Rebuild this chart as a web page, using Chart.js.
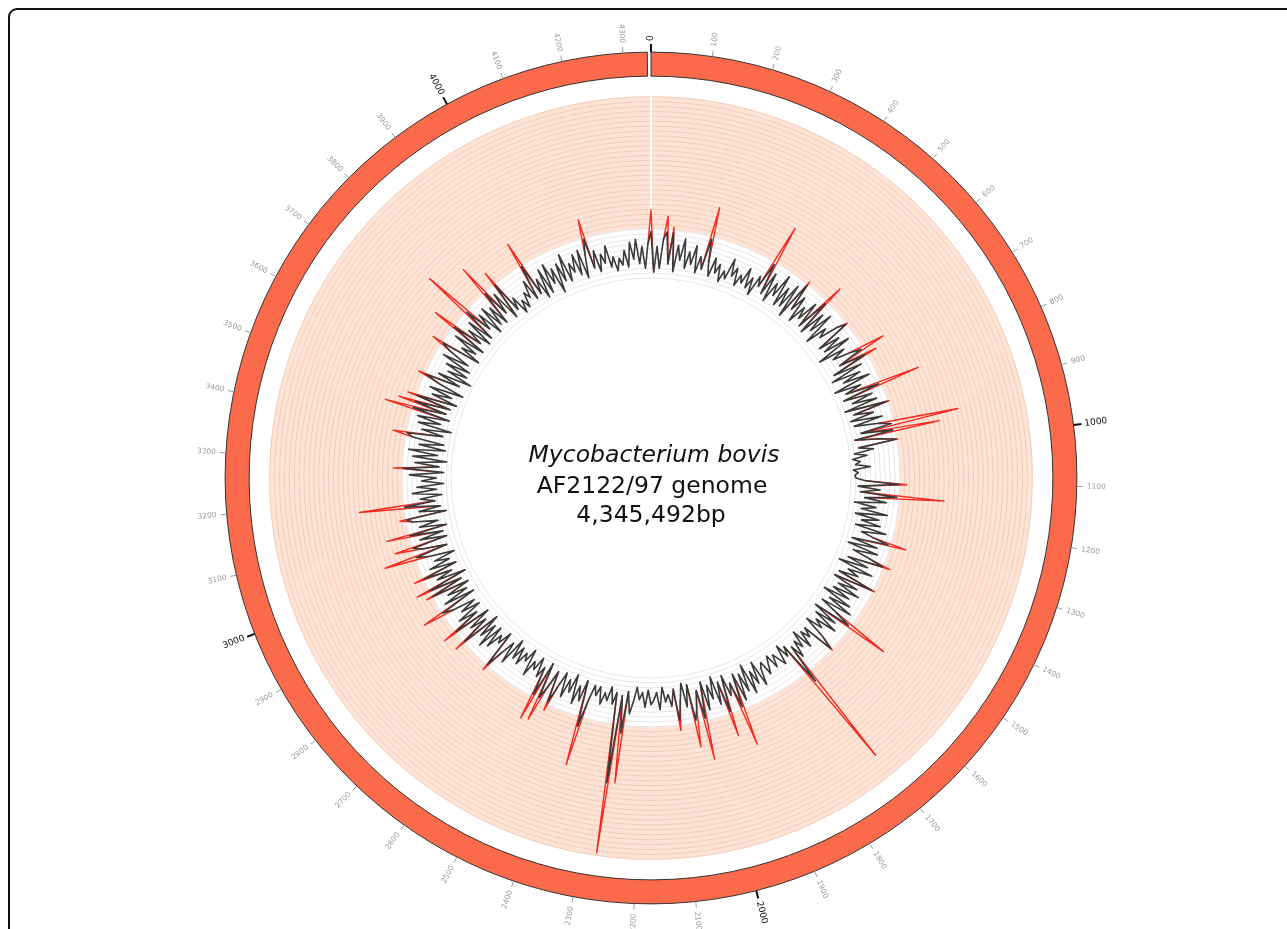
<!DOCTYPE html>
<html>
<head>
<meta charset="utf-8">
<script src="https://cdn.jsdelivr.net/npm/chart.js@4.4.1/dist/chart.umd.min.js"></script>
<style>
  body { margin: 0; background: #fff; }
  .wrap { position: relative; width: 1287px; height: 929px; overflow: hidden; }
  .frame { position: absolute; left: 8px; top: 8px; width: 1300px; height: 950px; border: 2px solid #111; border-radius: 9px; }
  canvas { position: absolute; left: 0; top: 0; }
</style>
</head>
<body>
<div class="wrap">
  <div class="frame"></div>
  <canvas id="myChart" width="1287" height="929"></canvas>
</div>
<script>
const genomeLength = 4345492;
const binCount = 480;
const binSize = genomeLength / binCount;
const binStarts = Array.from({ length: binCount }, (_, i) => Math.round(i * binSize));

// track values per bin (0 = inner edge of grey band, 10 = edge of shaded band)
const trackValues = [
  9.5, 1.2, 6.5, 2.0, 8.0, 9.5, 3.0, 9.5, 1.5, 7.0, 4.0, 8.5, 2.5, 6.0, 3.5, 7.5, 2.0, 5.5, 3.0, 9.5,
  4.5, 2.0, 6.0, 3.0, 5.0, 1.5, 4.0, 2.5, 7.0, 3.5, 5.5, 2.0, 4.5, 3.0, 6.5, 2.5, 5.0, 1.5, 6.0, 4.0,
  9.5, 3.0, 8.0, 2.0, 6.5, 4.0, 9.0, 2.5, 7.0, 3.0, 8.5, 1.5, 9.8, 4.0, 7.5, 2.0, 6.0, 3.5, 8.0, 2.5,
  9.5, 2.0, 7.5, 3.5, 8.5, 1.5, 6.0, 4.0, 8.0, 9.8, 2.5, 7.0, 3.0, 8.5, 1.0, 6.5, 3.5, 7.0, 9.5, 4.0,
  9.5, 2.0, 8.0, 1.0, 7.0, 3.0, 8.5, 0.5, 6.0, 2.5, 9.5, 1.5, 7.5, 3.0, 8.0, 1.0, 9.8, 2.5, 6.5, 1.5,
  8.0, 2.0, 7.0, 9.5, 3.0, 9.5, 1.5, 6.5, 9.8, 2.0, 5.0, 1.0, 3.5, 0.5, 2.0, 1.0, 4.0, 0.5, 1.5, 0.8,
  1.0, 3.0, 9.8, 1.5, 6.0, 2.0, 9.5, 3.0, 7.5, 1.0, 5.5, 2.5, 8.0, 1.5, 6.5, 3.0, 7.0, 2.0, 8.5, 3.5,
  6.0, 9.5, 2.0, 7.5, 1.5, 8.0, 3.0, 6.5, 9.8, 2.5, 7.0, 1.0, 8.5, 3.5, 6.0, 2.0, 9.8, 1.5, 7.0, 3.0,
  8.0, 2.5, 6.5, 1.0, 7.5, 3.0, 8.5, 2.0, 6.0, 9.5, 1.5, 7.0, 2.5, 8.0, 3.5, 5.5, 2.0, 7.0, 9.8, 3.0,
  5.0, 3.0, 6.5, 2.0, 5.5, 3.5, 7.0, 4.0, 12.5, 3.0, 5.0, 2.0, 6.0, 4.5, 3.0, 5.5, 2.5, 4.0, 6.0, 3.0,
  4.0, 7.5, 2.0, 6.5, 3.5, 8.0, 1.5, 7.0, 3.0, 8.5, 2.5, 9.5, 4.0, 6.5, 2.0, 9.5, 3.0, 7.5, 1.5, 6.0,
  3.0, 8.0, 2.0, 9.5, 3.5, 7.0, 9.5, 2.0, 6.5, 1.5, 5.0, 9.0, 2.5, 6.0, 3.5, 5.0, 2.0, 6.5, 3.0, 4.5,
  5.5, 2.5, 6.0, 3.0, 4.5, 2.0, 5.0, 7.5, 3.0, 11.6, 4.0, 22.0, 3.5, 6.0, 2.5, 5.5, 4.0, 6.5, 3.0, 5.0,
  3.0, 6.5, 12.0, 2.5, 7.0, 4.0, 8.0, 2.0, 6.0, 3.5, 7.5, 2.5, 5.5, 9.5, 3.0, 6.5, 9.5, 2.0, 9.5, 3.5,
  6.0, 2.0, 5.0, 3.5, 7.0, 1.5, 4.5, 3.0, 6.0, 2.5, 5.5, 1.5, 7.5, 3.0, 6.0, 9.8, 2.0, 5.0, 3.5, 7.0,
  2.5, 8.0, 3.0, 6.5, 1.5, 9.8, 3.5, 7.0, 2.0, 9.8, 4.0, 8.0, 2.5, 6.5, 3.0, 7.5, 9.8, 2.0, 8.5, 3.0,
  7.0, 2.0, 9.8, 3.0, 9.8, 1.5, 7.5, 4.0, 9.8, 2.5, 8.0, 3.5, 6.5, 2.0, 7.0, 9.8, 3.0, 8.0, 9.8, 2.5,
  8.0, 3.0, 9.8, 2.0, 7.5, 3.5, 8.5, 9.8, 1.5, 7.0, 2.5, 9.8, 3.5, 6.5, 2.0, 8.0, 3.0, 7.0, 1.5, 6.0,
  3.0, 8.5, 1.5, 9.8, 2.5, 7.5, 1.0, 8.0, 3.0, 9.0, 1.5, 7.0, 2.0, 8.5, 9.8, 2.5, 7.0, 1.0, 8.0, 3.5,
  8.5, 2.0, 9.8, 3.0, 9.8, 2.5, 9.8, 1.5, 7.0, 3.0, 8.0, 1.0, 6.5, 9.8, 2.5, 7.5, 0.5, 6.0, 2.0, 7.0,
  2.0, 8.5, 3.0, 7.5, 9.8, 1.5, 6.0, 3.0, 8.5, 2.0, 9.8, 3.5, 7.0, 2.0, 8.0, 2.5, 9.8, 4.0, 7.5, 2.0,
  8.0, 3.0, 7.0, 2.5, 9.8, 4.0, 8.5, 2.0, 9.8, 3.0, 5.5, 1.5, 4.0, 2.0, 5.0, 3.5, 7.0, 2.5, 9.8, 3.0,
  6.0, 1.5, 7.5, 2.0, 8.0, 3.5, 6.5, 1.0, 7.0, 3.0, 8.5, 2.5, 6.0, 4.0, 7.5, 3.0, 8.0, 2.0, 6.5, 9.8,
  3.5, 7.0, 2.5, 6.0, 4.0, 7.5, 3.0, 5.0, 2.0, 4.5, 3.0, 6.0, 2.5, 7.5, 4.0, 8.0, 3.0, 6.5, 2.0, 7.0,
];

// bins where the red track peaks above the black one
const peakBins = [0, 5, 7, 19, 40, 52, 60, 69, 78, 80, 90, 96, 103, 105, 108, 122, 126, 141, 148, 156,
  169, 178, 188, 211, 215, 223, 226, 231, 249, 251, 262, 273, 276, 278, 295, 305, 309, 316, 322, 324,
  328, 335, 338, 342, 347, 351, 363, 374, 382, 384, 386, 393, 404, 410, 416, 424, 428, 438, 459];
const peakValues = [13.9, 12.7, 10.6, 16.1, 18.0, 10.6, 13.7, 10.2, 14.7, 12.2, 18.2, 10.3, 23.4, 19.2, 10.2, 11.4, 19.2, 13.2, 11.4, 10.4,
  18.4, 10.2, 32.0, 17.7, 14.7, 18.0, 15.0, 11.1, 21.8, 36.5, 20.2, 11.4, 14.4, 14.9, 11.2, 12.1, 12.8, 14.3, 11.3, 12.7,
  12.0, 16.5, 13.6, 14.6, 11.2, 19.1, 11.8, 12.7, 15.7, 13.3, 11.8, 11.4, 12.2, 14.6, 20.0, 16.4, 12.9, 15.1, 13.9];

const tickPositionsKb = Array.from({ length: 44 }, (_, i) => i * 100);
const titleLines = ["Mycobacterium bovis", "AF2122/97 genome", "4,345,492bp"];

// red track: only the peaks and the bins next to them, gaps elsewhere
const peakSet = new Set(peakBins);
const redTrack = trackValues.map((v, i) => {
  const k = peakBins.indexOf(i);
  if (k >= 0) return peakValues[k];
  const prev = (i - 1 + binCount) % binCount;
  const next = (i + 1) % binCount;
  return peakSet.has(prev) || peakSet.has(next) ? v : null;
});

// radial levels (in track units)
const greyBandTop = 10;
const shadeTop = 37.1;
const ringInner = 41.2;
const ringOuter = 46.1;

const genomePlugin = {
  id: "genomeRing",
  beforeDraw(chart) {
    const { ctx } = chart;
    const s = chart.scales.r;
    const r1 = s.getDistanceFromCenterForValue(greyBandTop);
    const r2 = s.getDistanceFromCenterForValue(shadeTop);
    ctx.save();
    ctx.fillStyle = "#fde4d6";
    ctx.beginPath();
    ctx.arc(s.xCenter, s.yCenter, r2, 0, Math.PI * 2);
    ctx.arc(s.xCenter, s.yCenter, r1, 0, Math.PI * 2, true);
    ctx.fill();
    ctx.restore();
  },
  beforeDatasetsDraw(chart) {
    const { ctx } = chart;
    const s = chart.scales.r;
    const r1 = s.getDistanceFromCenterForValue(greyBandTop);
    const r2 = s.getDistanceFromCenterForValue(shadeTop);
    ctx.save();
    ctx.strokeStyle = "#fff";
    ctx.lineWidth = 2;
    ctx.beginPath();
    ctx.moveTo(s.xCenter, s.yCenter - r1);
    ctx.lineTo(s.xCenter, s.yCenter - r2 - 1);
    ctx.stroke();
    ctx.restore();
  },
  afterDraw(chart) {
    const { ctx } = chart;
    const s = chart.scales.r;
    const cx = s.xCenter;
    const cy = s.yCenter;
    const rIn = s.getDistanceFromCenterForValue(ringInner);
    const rOut = s.getDistanceFromCenterForValue(ringOuter);
    const start = -Math.PI / 2;
    const end = start + Math.PI * 2 * (1 - 0.5 / 360);

    ctx.save();
    ctx.beginPath();
    ctx.arc(cx, cy, rOut, start, end);
    ctx.arc(cx, cy, rIn, end, start, true);
    ctx.closePath();
    ctx.fillStyle = "#fb6a4a";
    ctx.fill();
    ctx.strokeStyle = "#333";
    ctx.lineWidth = 1;
    ctx.stroke();

    tickPositionsKb.forEach((kb) => {
      const major = kb % 1000 === 0;
      const theta = (kb * 1000 / genomeLength) * Math.PI * 2;
      const a = theta - Math.PI / 2;
      const len = major ? 8 : 6;
      ctx.strokeStyle = major ? "#111" : "#9a9a9a";
      ctx.lineWidth = major ? 2 : 1;
      ctx.beginPath();
      ctx.moveTo(cx + rOut * Math.cos(a), cy + rOut * Math.sin(a));
      ctx.lineTo(cx + (rOut + len) * Math.cos(a), cy + (rOut + len) * Math.sin(a));
      ctx.stroke();

      const rl = rOut + (major ? 11 : 10);
      ctx.save();
      ctx.translate(cx + rl * Math.cos(a), cy + rl * Math.sin(a));
      if (theta < Math.PI) {
        ctx.rotate(a);
        ctx.textAlign = "left";
      } else {
        ctx.rotate(a + Math.PI);
        ctx.textAlign = "right";
      }
      ctx.textBaseline = "middle";
      ctx.fillStyle = major ? "#111" : "#9a9a9a";
      ctx.font = major ? "9px 'DejaVu Sans'" : "7.5px 'DejaVu Sans'";
      ctx.fillText(String(kb), 0, 0);
      ctx.restore();
    });

    ctx.fillStyle = "#111";
    ctx.textAlign = "center";
    ctx.textBaseline = "alphabetic";
    ctx.font = "oblique 23.5px 'DejaVu Sans'";
    ctx.fillText(titleLines[0], cx + 3, cy - 16);
    ctx.font = "23.5px 'DejaVu Sans'";
    ctx.fillText(titleLines[1], cx + 1, cy + 15);
    ctx.fillText(titleLines[2], cx, cy + 44);
    ctx.restore();
  },
};

const ctx = document.getElementById("myChart");

new Chart(ctx, {
  type: "radar",
  data: {
    labels: binStarts,
    datasets: [
      {
        label: "track",
        data: trackValues,
        borderColor: "#3a3a3a",
        borderWidth: 1.6,
        borderJoinStyle: "round",
        pointRadius: 0,
        fill: false,
        tension: 0,
      },
      {
        label: "peaks",
        data: redTrack,
        borderColor: "#f52a1f",
        borderWidth: 1.4,
        borderJoinStyle: "round",
        pointRadius: 0,
        fill: false,
        tension: 0,
        spanGaps: false,
      },
    ],
  },
  options: {
    responsive: false,
    animation: false,
    layout: { padding: { left: 211, right: 196, top: 38, bottom: 11 } },
    plugins: { legend: { display: false }, tooltip: { enabled: false } },
    scales: {
      r: {
        min: -40.816,
        max: 48.98,
        ticks: { display: false, stepSize: 1 },
        pointLabels: { display: false },
        angleLines: { display: false },
        grid: {
          circular: true,
          lineWidth: 1,
          color: (c) => {
            const v = c.tick ? c.tick.value : -99;
            if (v >= 0 && v <= greyBandTop) return "#e6e6e6";
            if (v > greyBandTop && v <= 37) return "#f3cdb9";
            return "rgba(0,0,0,0)";
          },
        },
      },
    },
  },
  plugins: [genomePlugin],
});
</script>
</body>
</html>
